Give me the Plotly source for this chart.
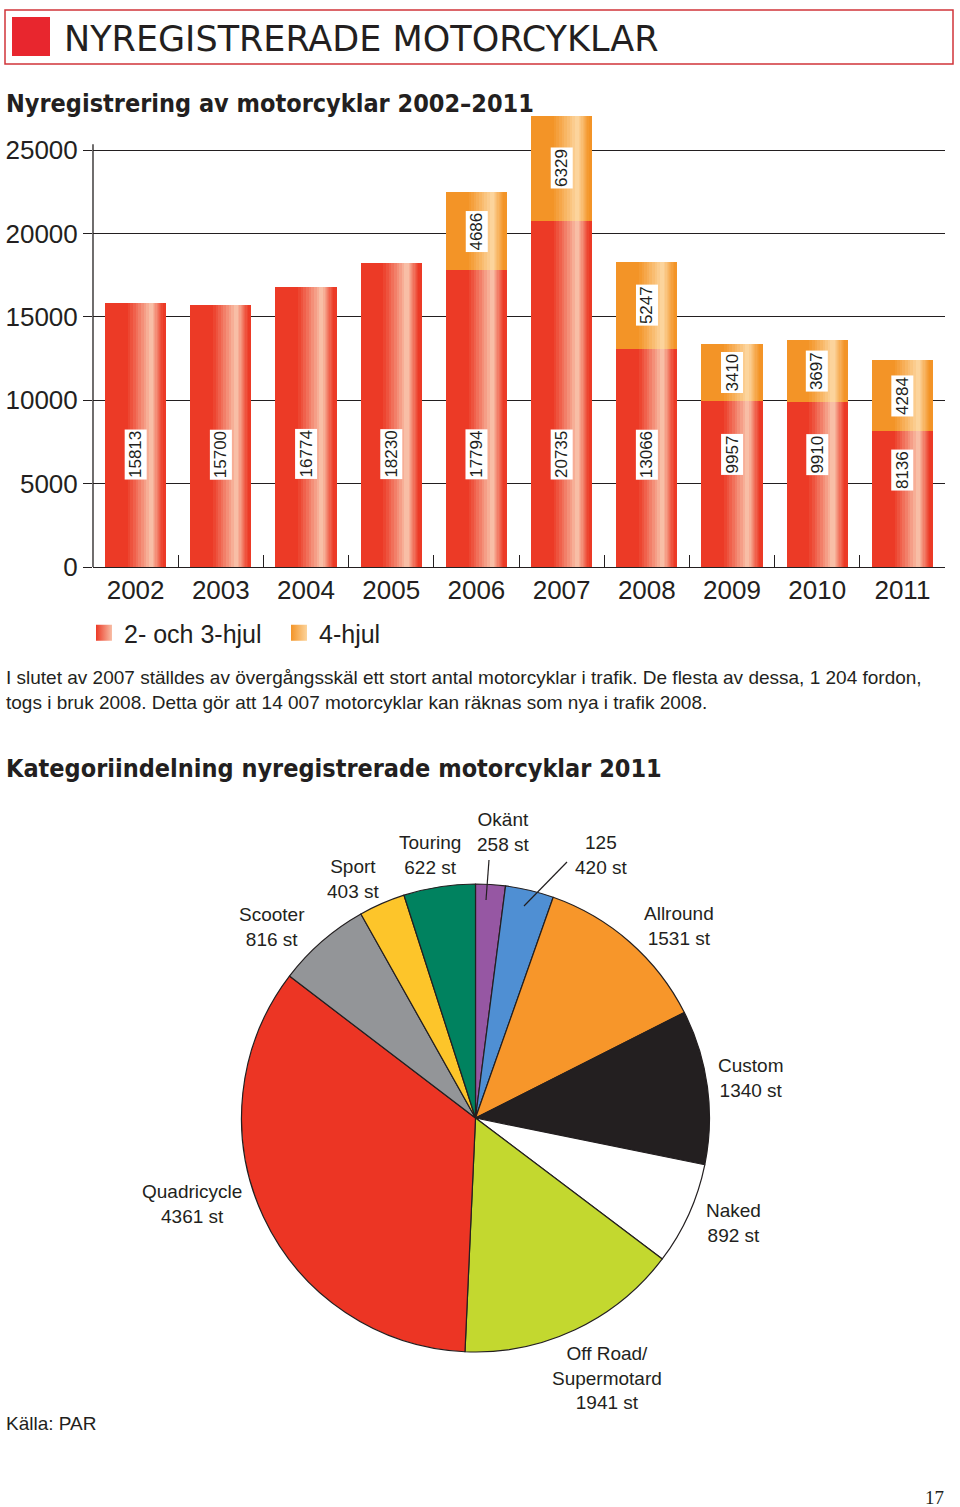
import plotly.graph_objects as go

# ---------------- data ----------------
years = ["2002", "2003", "2004", "2005", "2006", "2007", "2008", "2009", "2010", "2011"]
hjul_2_3 = [15813, 15700, 16774, 18230, 17794, 20735, 13066, 9957, 9910, 8136]
hjul_4 = [0, 0, 0, 0, 4686, 6329, 5247, 3410, 3697, 4284]
series_names = ["2- och 3-hjul", "4-hjul"]
y_ticks = [0, 5000, 10000, 15000, 20000, 25000]

pie_labels = ["Okänt", "125", "Allround", "Custom", "Naked", "Off Road/<br>Supermotard",
              "Quadricycle", "Scooter", "Sport", "Touring"]
pie_values = [258, 420, 1531, 1340, 892, 1941, 4361, 816, 403, 622]
pie_colors = ["#9657A3", "#4F8FD3", "#F7962A", "#231F20", "#FFFFFF", "#C3D82F",
              "#EC3524", "#939598", "#FDC52A", "#00825F"]

W, H = 960, 1507
def px(p): return p / W
def py(p): return 1 - p / H

SANS = "Liberation Sans, Arial, Helvetica, sans-serif"
NARROW = "DejaVu Sans Condensed, sans-serif"
INK = "#231F20"

def mix(c1, c2, t):
    a = [int(c1[i:i + 2], 16) for i in (1, 3, 5)]
    b = [int(c2[i:i + 2], 16) for i in (1, 3, 5)]
    return "#" + "".join(f"{round(x + (y - x) * t):02X}" for x, y in zip(a, b))

fig = go.Figure()

BW = 0.72
red_base, red_hi = "#EC3A26", "#F8BEA6"
orange_base, orange_hi = "#F39427", "#FCD49C"
base4 = hjul_2_3
vis4 = [v if v > 0 else None for v in hjul_4]

fig.add_trace(go.Bar(x=years, y=hjul_2_3, name=series_names[0], marker_color=red_base,
                     marker_line_width=0, width=BW, offset=-BW / 2, hoverinfo="skip",
                     showlegend=False))
fig.add_trace(go.Bar(x=years, y=vis4, base=base4, name=series_names[1], marker_color=orange_base,
                     marker_line_width=0, width=BW, offset=-BW / 2, hoverinfo="skip",
                     showlegend=False))

# highlight stripes (imitating the cylindrical gradient of the bars)
N = 9
for k in range(N):
    t = (k + 1) / N
    a = 0.33 + (0.715 - 0.33) * t
    b = 0.96 + (0.785 - 0.96) * t
    for yy, bb, c0, c1 in ((hjul_2_3, None, red_base, red_hi), (vis4, base4, orange_base, orange_hi)):
        fig.add_trace(go.Bar(x=years, y=yy, base=bb, marker_color=mix(c0, c1, t ** 1.1),
                             marker_line_width=0, width=BW * (b - a), offset=-BW / 2 + BW * a,
                             showlegend=False, hoverinfo="skip"))

# legend entries (square swatches with a horizontal gradient)
for nm, c0, c1 in ((series_names[0], red_base, red_hi), (series_names[1], orange_base, orange_hi)):
    fig.add_trace(go.Scatter(x=[None], y=[None], mode="markers", name=nm,
                             marker=dict(symbol="square", size=20, color=c0,
                                         gradient=dict(type="horizontal", color=c1),
                                         line=dict(width=0))))

# value labels (x given as category index)
annotations = []
for i, (v, v4) in enumerate(zip(hjul_2_3, hjul_4)):
    annotations.append(dict(x=i, y=min(6750, v - 2300), xref="x", yref="y", text=str(v),
                            textangle=-90, showarrow=False, bgcolor="white", borderpad=1,
                            font=dict(family=SANS, size=17, color=INK)))
    if v4 > 0:
        annotations.append(dict(x=i, y=v + v4 / 2, xref="x", yref="y", text=str(v4),
                                textangle=-90, showarrow=False, bgcolor="white", borderpad=1,
                                font=dict(family=SANS, size=17, color=INK)))

# pie
fig.add_trace(go.Pie(labels=pie_labels, values=pie_values, sort=False, direction="clockwise",
                     rotation=0, textinfo="none", hoverinfo="label+value",
                     marker=dict(colors=pie_colors, line=dict(color="#231F20", width=1.2)),
                     domain=dict(x=[px(241), px(710)], y=[py(1352), py(884)]),
                     showlegend=False))

label_pos = {"Okänt": (503, 832), "125": (601, 855), "Allround": (679, 926),
             "Custom": (750, 1078), "Naked": (733, 1223), "Off Road/<br>Supermotard": (607, 1378),
             "Quadricycle": (192, 1204), "Scooter": (272, 927), "Sport": (353, 879),
             "Touring": (430, 855)}
for lab, val in zip(pie_labels, pie_values):
    x0, y0 = label_pos[lab]
    annotations.append(dict(x=px(x0), y=py(y0), xref="paper", yref="paper",
                            text=f"{lab}<br>{val} st", showarrow=False, align="center",
                            xanchor="center", yanchor="middle",
                            font=dict(family=SANS, size=19, color=INK)))

annotations += [
    dict(x=px(62), y=py(39), xref="paper", yref="paper", text="NYREGISTRERADE MOTORCYKLAR",
         showarrow=False, xanchor="left", yanchor="middle",
         font=dict(family="DejaVu Sans, sans-serif", size=35, color=INK)),
    dict(x=px(4), y=py(103), xref="paper", yref="paper",
         text="Nyregistrering av motorcyklar 2002–2011",
         showarrow=False, xanchor="left", yanchor="middle",
         font=dict(family=NARROW, size=25, color=INK, weight="bold")),
    dict(x=px(4), y=py(768), xref="paper", yref="paper",
         text="Kategoriindelning nyregistrerade motorcyklar 2011",
         showarrow=False, xanchor="left", yanchor="middle",
         font=dict(family=NARROW, size=25, color=INK, weight="bold")),
    dict(x=px(4), y=py(690), xref="paper", yref="paper",
         text="I slutet av 2007 ställdes av övergångsskäl ett stort antal motorcyklar i trafik. "
              "De flesta av dessa, 1 204 fordon,<br>togs i bruk 2008. Detta gör att 14 007 "
              "motorcyklar kan räknas som nya i trafik 2008.",
         showarrow=False, xanchor="left", yanchor="middle", align="left",
         font=dict(family=SANS, size=19, color=INK)),
    dict(x=px(4), y=py(1423), xref="paper", yref="paper", text="Källa: PAR",
         showarrow=False, xanchor="left", yanchor="middle",
         font=dict(family=SANS, size=19, color=INK)),
    dict(x=px(946), y=py(1497), xref="paper", yref="paper", text="17",
         showarrow=False, xanchor="right", yanchor="middle",
         font=dict(family="Liberation Serif, serif", size=19, color=INK)),
]

shapes = [
    dict(type="rect", xref="paper", yref="paper", x0=px(5), x1=px(953), y0=py(64), y1=py(10),
         line=dict(color="#D1343A", width=1.5), fillcolor="rgba(0,0,0,0)"),
    dict(type="rect", xref="paper", yref="paper", x0=px(12), x1=px(50), y0=py(56), y1=py(17),
         line=dict(width=0), fillcolor="#E8262E"),
    dict(type="line", xref="x domain", yref="y", x0=0, x1=0, y0=0, y1=25350,
         line=dict(color=INK, width=1.3)),
    dict(type="line", xref="paper", yref="paper", x0=px(489), y0=py(860), x1=px(486), y1=py(900),
         line=dict(color=INK, width=1.2)),
    dict(type="line", xref="paper", yref="paper", x0=px(567), y0=py(862), x1=px(524), y1=py(906),
         line=dict(color=INK, width=1.2)),
]

fig.update_layout(
    template="none",
    width=W, height=H, margin=dict(l=0, r=0, t=0, b=0, pad=0, autoexpand=False),
    paper_bgcolor="white", plot_bgcolor="white",
    barmode="overlay", bargap=0,
    annotations=annotations, shapes=shapes,
    font=dict(family=SANS, color=INK),
    showlegend=True,
    legend=dict(orientation="h", x=px(84), y=py(610), xanchor="left", yanchor="top",
                font=dict(family=SANS, size=25, color=INK), entrywidth=150,
                entrywidthmode="pixels", itemclick=False, itemdoubleclick=False,
                bgcolor="rgba(0,0,0,0)", itemsizing="trace"),
    xaxis=dict(domain=[px(93), px(945)], type="category", categoryorder="array",
               categoryarray=years, range=[-0.5, 9.5], autorange=False,
               showgrid=False, automargin=False, tickangle=0,
               showline=True, linecolor=INK, linewidth=1.3,
               ticks="inside", tickson="boundaries", ticklen=12, tickcolor=INK, tickwidth=1.3,
               tickfont=dict(family=SANS, size=26, color=INK), fixedrange=True),
    yaxis=dict(domain=[py(567), py(115)], range=[0, 27100], autorange=False,
               tickvals=y_ticks, tickformat="d", automargin=False,
               showgrid=True, gridcolor=INK, gridwidth=1.3, zeroline=False, showline=False,
               ticks="outside", ticklen=9, tickcolor=INK, tickwidth=1.3,
               tickfont=dict(family=SANS, size=26, color=INK), fixedrange=True),
)

fig.write_html("out.html", config={"displayModeBar": False},
               post_script="document.body.style.margin='0px';")
